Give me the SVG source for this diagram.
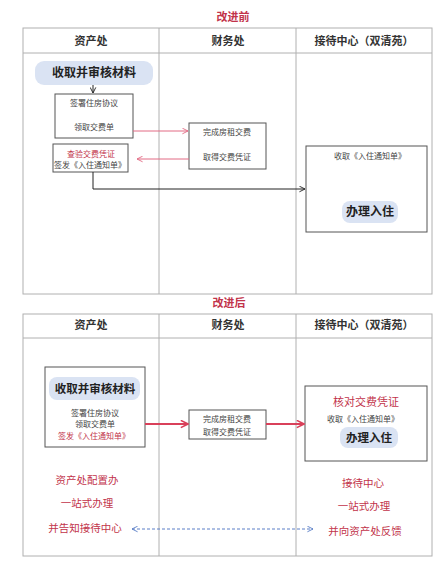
<svg xmlns="http://www.w3.org/2000/svg" width="446" height="563" viewBox="0 0 446 563">
<style>
text{font-family:"Liberation Serif","Noto Sans CJK SC",serif;text-anchor:middle;dominant-baseline:central;fill:#333}
.title{font-size:11px;font-weight:bold;fill:#c2334a}
.hdr{font-size:11px;font-weight:bold;fill:#333}
.grid{fill:none;stroke:#b0b0b0;stroke-width:1}
.box{fill:#fff;stroke:#555;stroke-width:1}
.blob{fill:#dae3f3;stroke:none}
.big{font-size:12px;font-weight:bold;fill:#222}
.sm{font-size:8px;fill:#444}
.red{fill:#c2334a}
.rt{font-size:10.5px;fill:#c2334a}
</style>
<defs>
<marker id="ah" viewBox="0 0 10 10" refX="9" refY="5" markerWidth="7" markerHeight="7" orient="auto-start-reverse" markerUnits="userSpaceOnUse"><path d="M1,1 L9,5 L1,9" fill="none" stroke="context-stroke" stroke-width="1.3"/></marker>
<marker id="ahr" viewBox="0 0 10 10" refX="9" refY="5" markerWidth="9" markerHeight="9" orient="auto-start-reverse" markerUnits="userSpaceOnUse"><path d="M1,1 L9,5 L1,9" fill="none" stroke="context-stroke" stroke-width="1.8"/></marker>
</defs>

<g id="before-table">
<text class="title" x="233" y="17">改进前</text>
<rect class="grid" x="23" y="28" width="409" height="266"/>
<line class="grid" x1="23" y1="53" x2="432" y2="53"/>
<line class="grid" x1="159" y1="28" x2="159" y2="294"/>
<line class="grid" x1="296" y1="28" x2="296" y2="294"/>
<text class="hdr" x="91" y="41">资产处</text>
<text class="hdr" x="228" y="41">财务处</text>
<text class="hdr" x="364" y="41">接待中心（双清苑）</text>
</g>

<g id="b-collect">
<rect class="blob" x="35" y="61" width="118" height="24" rx="9"/>
<text class="big" x="94" y="73">收取并审核材料</text>
</g>
<g id="b-sign">
<rect class="box" x="55" y="94" width="78" height="44"/>
<text class="sm" x="94" y="103">签署住房协议</text>
<text class="sm" x="94" y="127">领取交费单</text>
</g>
<g id="b-check">
<rect class="box" x="53" y="144" width="75" height="28"/>
<text class="sm red" x="91" y="154">查验交费凭证</text>
<text class="sm" x="90" y="165">签发《入住通知单》</text>
</g>
<g id="b-finance">
<rect class="box" x="189" y="123" width="77" height="46"/>
<text class="sm" x="227" y="132">完成房租交费</text>
<text class="sm" x="227" y="157">取得交费凭证</text>
</g>
<g id="b-reception">
<rect class="box" x="306" y="146" width="121" height="86"/>
<text class="sm" x="370" y="156">收取《入住通知单》</text>
<rect class="blob" x="342" y="201" width="56" height="22" rx="8"/>
<text class="big" x="370" y="212">办理入住</text>
</g>

<g id="after-table">
<text class="title" x="229" y="303">改进后</text>
<rect class="grid" x="23" y="314" width="409" height="242"/>
<line class="grid" x1="23" y1="338" x2="432" y2="338"/>
<line class="grid" x1="159" y1="314" x2="159" y2="556"/>
<line class="grid" x1="296" y1="314" x2="296" y2="556"/>
<text class="hdr" x="91" y="325">资产处</text>
<text class="hdr" x="228" y="325">财务处</text>
<text class="hdr" x="364" y="325">接待中心（双清苑）</text>
</g>

<g id="a-asset">
<rect class="box" x="45" y="367" width="100" height="80"/>
<rect class="blob" x="49" y="377" width="91" height="23" rx="8"/>
<text class="big" x="95" y="389" style="font-size:11.5px">收取并审核材料</text>
<text class="sm" x="95" y="413">签署住房协议</text>
<text class="sm" x="95" y="424">领取交费单</text>
<text class="sm red" x="94" y="436">签发《入住通知单》</text>
</g>
<g id="a-finance">
<rect class="box" x="189" y="410" width="77" height="29"/>
<text class="sm" x="227" y="419">完成房租交费</text>
<text class="sm" x="227" y="432">取得交费凭证</text>
</g>
<g id="a-reception">
<rect class="box" x="305" y="386" width="122" height="75"/>
<text x="366" y="402" style="font-size:11px;fill:#c2334a">核对交费凭证</text>
<text class="sm" x="363" y="419">收取《入住通知单》</text>
<rect class="blob" x="340" y="427" width="58" height="21" rx="8"/>
<text class="big" x="369" y="438" style="font-size:11.5px">办理入住</text>
</g>
<g id="a-asset-note">
<text class="rt" x="87" y="480">资产处配置办</text>
<text class="rt" x="87" y="503">一站式办理</text>
<text class="rt" x="85" y="528">并告知接待中心</text>
</g>
<g id="a-reception-note">
<text class="rt" x="363" y="483">接待中心</text>
<text class="rt" x="364" y="506">一站式办理</text>
<text class="rt" x="365" y="531">并向资产处反馈</text>
</g>

<g id="connectors" fill="none">
<line x1="93" y1="85" x2="93" y2="93" stroke="#222" stroke-width="1" marker-end="url(#ah)"/>
<line x1="133" y1="131" x2="188" y2="131" stroke="#e26b84" stroke-width="1" marker-end="url(#ah)"/>
<line x1="189" y1="159" x2="137" y2="159" stroke="#e26b84" stroke-width="1" marker-end="url(#ah)"/>
<polyline points="93,172 93,189 305,189" stroke="#222" stroke-width="1" marker-end="url(#ah)"/>
<line x1="145" y1="424" x2="188" y2="424" stroke="#d9405a" stroke-width="1.8" marker-end="url(#ahr)"/>
<line x1="266" y1="424" x2="304" y2="424" stroke="#d9405a" stroke-width="1.8" marker-end="url(#ahr)"/>
<line x1="132" y1="529" x2="313" y2="529" stroke="#5b7fc7" stroke-width="1" stroke-dasharray="3,2" marker-start="url(#ah)" marker-end="url(#ah)"/>
</g>
</svg>
